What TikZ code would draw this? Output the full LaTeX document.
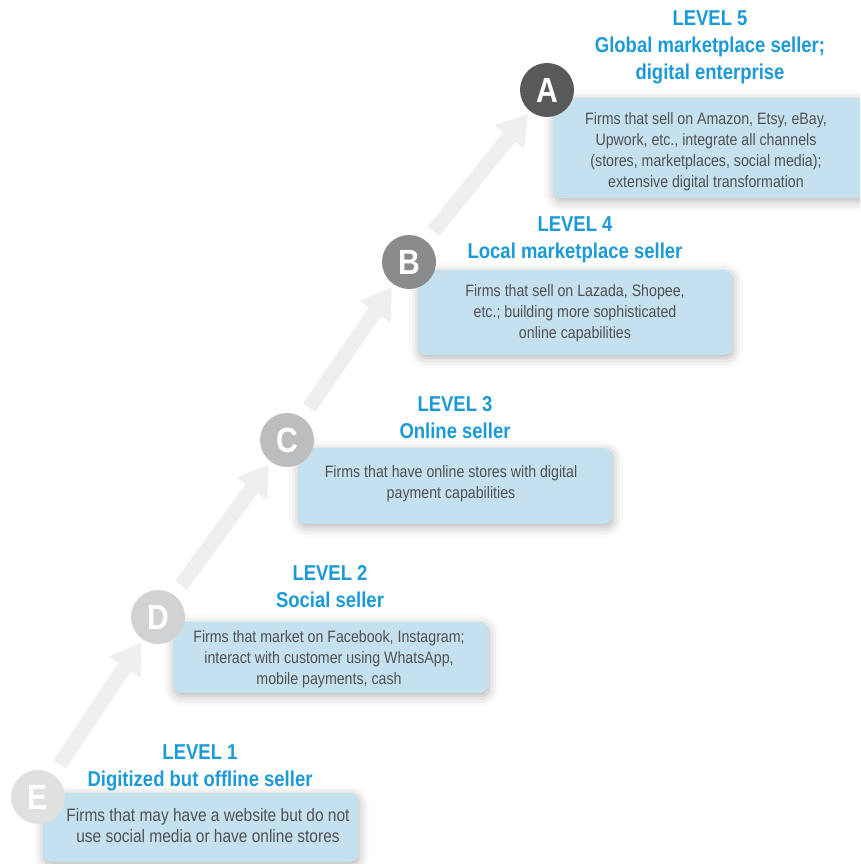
\documentclass[tikz,border=0pt]{standalone}
\usepackage{fontspec}
\setmainfont[FakeStretch=0.86]{Liberation Sans}
\usetikzlibrary{arrows.meta,shadows.blur,backgrounds}
\definecolor{boxblue}{RGB}{197,225,240}
\definecolor{titleblue}{RGB}{27,154,215}
\definecolor{bodygray}{RGB}{80,81,83}
\definecolor{arrowgray}{RGB}{238,239,240}
\definecolor{cE}{RGB}{224,224,225}
\definecolor{cD}{RGB}{209,210,212}
\definecolor{cC}{RGB}{188,189,191}
\definecolor{cB}{RGB}{138,139,141}
\definecolor{cA}{RGB}{88,89,91}
\tikzset{
  box/.style={rectangle, rounded corners=8pt, fill=boxblue, inner sep=0pt,
    blur shadow={shadow xshift=1pt, shadow yshift=-3pt, shadow blur radius=10pt, shadow opacity=30}},
  circ/.style={circle, minimum size=54pt, inner sep=0pt, text=white,
    font=\bfseries\fontsize{35}{35}\selectfont},
  body/.style={font=\fontsize{16.5}{21}\selectfont, text=bodygray, align=center, inner sep=0pt, anchor=north},
  ttl/.style={font=\bfseries\fontsize{21.5}{27}\selectfont, text=titleblue, align=center, inner sep=0pt, anchor=north},
  arr/.style={draw=arrowgray, line width=15pt, shorten <=12pt, shorten >=3pt,
    -{Triangle[width=36pt,length=30pt]}}
}
\begin{document}
\begin{tikzpicture}[x=1pt,y=-1pt]
\useasboundingbox (0,0) rectangle (860,864);
\clip (0,0) rectangle (860,864);
% boxes
\node[box, minimum width=315pt, minimum height=69pt] (bE) at (200.5,827.5) {};
\node[box, minimum width=315pt, minimum height=71pt] (bD) at (330.5,657.5) {};
\node[box, minimum width=314pt, minimum height=76pt] (bC) at (455,486) {};
\node[box, minimum width=314pt, minimum height=85pt] (bB) at (575,312.5) {};
\node[box, minimum width=316pt, minimum height=100pt] (bA) at (711,148) {};
% circles
\node[circ, fill=cE] (E) at (38,797) {E};
\node[circ, fill=cD] (D) at (158,617) {D};
\node[circ, fill=cC] (C) at (287,440) {C};
\node[circ, fill=cB] (B) at (409,262) {B};
\node[circ, fill=cA] (A) at (547,90) {A};
% arrows
\begin{pgfonlayer}{background}
\draw[arr] (E) -- (D);
\draw[arr] (D) -- (C);
\draw[arr] (C) -- (B);
\draw[arr] (B) -- (A);
\end{pgfonlayer}
% titles
\node[ttl] (hE) at (200,744) {LEVEL 1\\Digitized but offline seller};
\node[ttl] (hD) at (330,565) {LEVEL 2\\Social seller};
\node[ttl] (hC) at (455,396) {LEVEL 3\\Online seller};
\node[ttl] (hB) at (575,217) {LEVEL 4\\Local marketplace seller};
\node[ttl] (hA) at (710,10.5) {LEVEL 5\\Global marketplace seller;\\digital enterprise};
% body texts
\node[body, font=\fontsize{18}{21}\selectfont] (tE) at (208,808) {Firms that may have a website but do not\\use social media or have online stores};
\node[body] (tD) at (329,630) {Firms that market on Facebook, Instagram;\\interact with customer using WhatsApp,\\mobile payments, cash};
\node[body] (tC) at (451,465) {Firms that have online stores with digital\\payment capabilities};
\node[body] (tB) at (575,284) {Firms that sell on Lazada, Shopee,\\etc.; building more sophisticated\\online capabilities};
\node[body] (tA) at (706,112) {Firms that sell on Amazon, Etsy, eBay,\\Upwork, etc., integrate all channels\\(stores, marketplaces, social media);\\extensive digital transformation};
\end{tikzpicture}
\end{document}
